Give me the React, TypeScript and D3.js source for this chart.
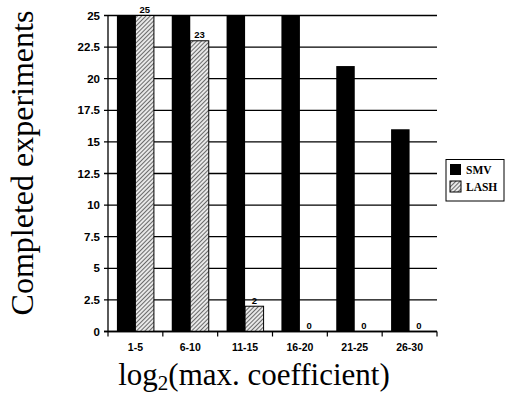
import React from "react";
import * as d3 from "d3";

const categories = ["1-5", "6-10", "11-15", "16-20", "21-25", "26-30"];
const smv = [25, 25, 25, 25, 21, 16];
const lash = [25, 23, 2, 0, 0, 0];
const series = ["SMV", "LASH"];
const yTicks = [0, 2.5, 5, 7.5, 10, 12.5, 15, 17.5, 20, 22.5, 25];

export default function App() {
  const W = 507, H = 402;
  const left = 108, right = 437, top = 15.5, bottom = 331.5;
  const x = d3.scaleBand().domain(categories).range([left, right]).paddingInner(0).paddingOuter(0);
  const y = d3.scaleLinear().domain([0, 25]).range([bottom, top]);
  const bw = 18.5;
  const sans = "'Liberation Sans', Arial, sans-serif";
  const serif = "'Liberation Serif', 'DejaVu Serif', serif";
  return (
    <svg width={W} height={H} style={{ position: "absolute", left: 0, top: 0, background: "#fff" }}>
      <defs>
        <pattern id="hatch" patternUnits="userSpaceOnUse" width="3" height="3" patternTransform="rotate(45)">
          <rect width="3" height="3" fill="#e8e8e8" />
          <line x1="0" y1="0" x2="0" y2="3" stroke="#000" strokeWidth="1.1" />
        </pattern>
      </defs>
      {yTicks.map((t) => (
        <g key={t}>
          <line x1={left - 4} x2={right} y1={y(t)} y2={y(t)} stroke="#000" strokeWidth={1.3} />
          <text x={left - 8} y={y(t)} dy="0.35em" textAnchor="end" fontFamily={sans} fontWeight="bold" fontSize={11.5}>
            {t}
          </text>
        </g>
      ))}
      <line x1={left} x2={left} y1={top} y2={bottom} stroke="#000" strokeWidth={1.3} />
      {categories.map((c, i) => {
        const x0 = (x(c) as number) + (x.bandwidth() - 2 * bw) / 2;
        return (
          <g key={c}>
            <rect x={x0} y={y(smv[i])} width={bw} height={bottom - y(smv[i])} fill="#000" />
            <rect x={x0 + bw} y={y(lash[i])} width={bw} height={bottom - y(lash[i])} fill="url(#hatch)" stroke="#000" strokeWidth={1} />
            <text x={x0 + bw * 1.5} y={y(lash[i]) - 2.5} textAnchor="middle" fontFamily={sans} fontWeight="bold" fontSize={9.5}>
              {lash[i]}
            </text>
            <line x1={x(c) as number} x2={x(c) as number} y1={bottom} y2={bottom + 5} stroke="#000" strokeWidth={1.2} />
            <text x={(x(c) as number) + x.bandwidth() / 2} y={bottom + 19.5} textAnchor="middle" fontFamily={sans} fontWeight="bold" fontSize={10.5}>
              {c}
            </text>
          </g>
        );
      })}
      <line x1={right} x2={right} y1={bottom} y2={bottom + 5} stroke="#000" strokeWidth={1.2} />
      <line x1={left - 4} x2={right} y1={bottom} y2={bottom} stroke="#000" strokeWidth={1.6} />
      <g>
        <rect x={446} y={159.5} width={58} height={41.5} fill="#fff" stroke="#000" strokeWidth={1} />
        {series.map((s, i) => (
          <g key={s}>
            <rect x={450} y={164 + i * 17} width={11} height={11} fill={i === 0 ? "#000" : "url(#hatch)"} stroke="#000" strokeWidth={i === 0 ? 0 : 1} />
            <text x={466} y={173.5 + i * 17} fontFamily={serif} fontWeight="bold" fontSize={11.5}>
              {s}
            </text>
          </g>
        ))}
      </g>
      <text transform="translate(33,163) rotate(-90)" textAnchor="middle" fontFamily={serif} fontSize={32}>
        Completed experiments
      </text>
      <text x={254} y={385} textAnchor="middle" fontFamily={serif} fontSize={31}>
        log<tspan fontSize={21} dy={5}>2</tspan><tspan dy={-5}>(max. coefficient)</tspan>
      </text>
    </svg>
  );
}
